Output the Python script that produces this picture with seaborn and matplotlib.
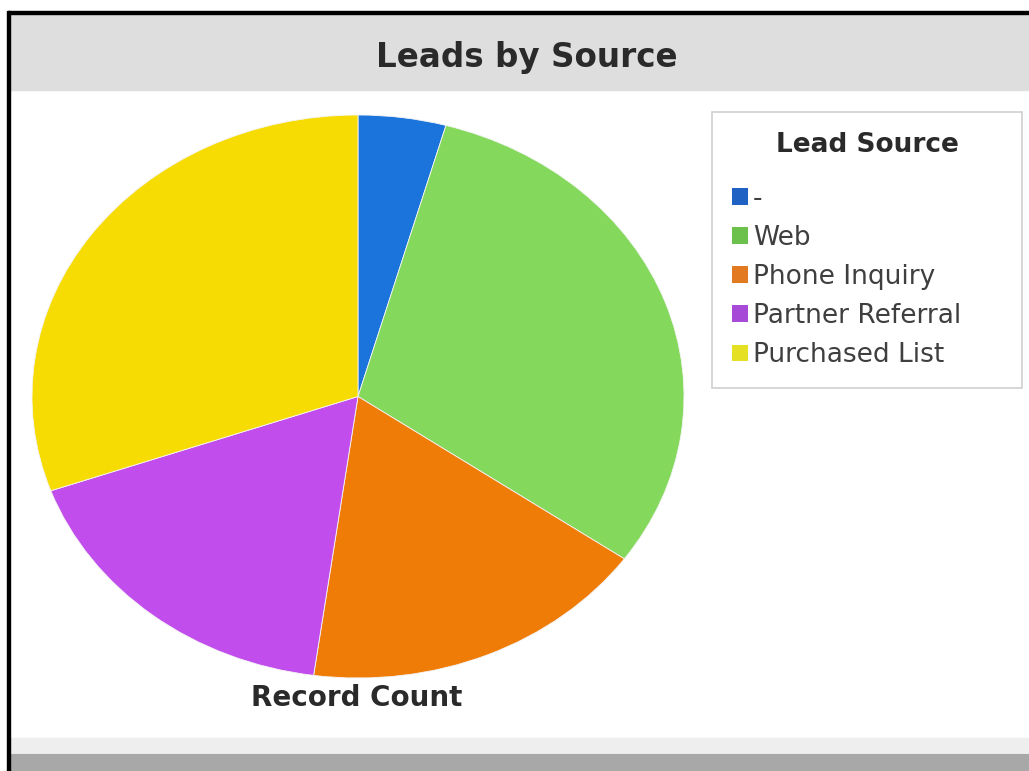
import matplotlib
matplotlib.use('Agg')
import matplotlib.pyplot as plt
from matplotlib.patches import Rectangle, Patch
import seaborn as sns

sources = ['-', 'Web', 'Phone Inquiry', 'Partner Referral', 'Purchased List']
record_count = [1, 7, 4, 4, 7]
slice_colors = ['#1a74dc', '#84d85c', '#f07c08', '#c14ded', '#f6dc02']
legend_colors = ['#1f62c4', '#6cc04c', '#e27a22', '#a84ad8', '#e6e024']

sns.set_theme(style='white')
plt.rcParams['font.family'] = ['DejaVu Sans']

W, H = 1029, 771
fig = plt.figure(figsize=(W / 100, H / 100), dpi=100)
fig.patch.set_facecolor('white')


def fx(px):
    return px / W


def fy(py):
    return 1 - py / H


# frame bits: top black rule, left black rule, header band, footer band
fig.patches.append(Rectangle((fx(8), fy(90)), 1, fy(14) - fy(90), transform=fig.transFigure,
                             color='#dedede', zorder=0))
fig.patches.append(Rectangle((fx(8), fy(14)), 1, fy(11) - fy(14), transform=fig.transFigure,
                             color='black', zorder=1))
fig.patches.append(Rectangle((fx(7), fy(771)), fx(3), fy(11) - fy(771), transform=fig.transFigure,
                             color='black', zorder=1))
fig.patches.append(Rectangle((fx(10), fy(752)), 1, fy(738) - fy(752), transform=fig.transFigure,
                             color='#eeeeee', zorder=0))
fig.patches.append(Rectangle((fx(10), fy(771)), 1, fy(754) - fy(771), transform=fig.transFigure,
                             color='#a8a8a8', zorder=0))

fig.text(fx(527), fy(57), 'Leads by Source', ha='center', va='center',
         fontsize=23.5, fontweight='bold', color='#2a2a2a')

ax = fig.add_axes([fx(32), fy(678), fx(684) - fx(32), fy(115) - fy(678)])
wedges, _ = ax.pie(record_count, colors=slice_colors, startangle=90, counterclock=False,
                   radius=1, wedgeprops=dict(edgecolor='#f4f4f4', linewidth=0.6))
ax.set_aspect('auto')
ax.set_xlim(-1, 1)
ax.set_ylim(-1, 1)
ax.axis('off')

fig.text(fx(357), fy(698), 'Record Count', ha='center', va='center',
         fontsize=20, fontweight='bold', color='#2a2a2a')

handles = [Patch(facecolor=c, edgecolor='none') for c in legend_colors]
leg = fig.legend(handles, sources, title='Lead Source', loc='upper left',
                 bbox_to_anchor=(fx(712), fy(392), fx(1022) - fx(712), fy(112) - fy(392)),
                 bbox_transform=fig.transFigure, mode='expand', fontsize=19,
                 title_fontproperties={'weight': 'bold', 'size': 19},
                 frameon=True, fancybox=False, edgecolor='#d0d0d0', framealpha=1,
                 handlelength=0.6, handleheight=0.6, handletextpad=0.2,
                 labelspacing=0.5, borderpad=0.75, borderaxespad=0)
leg._legend_box.sep = 20
leg.get_frame().set_linewidth(1.2)
for t in leg.get_texts():
    t.set_color('#3f3f3f')
leg.get_title().set_color('#2a2a2a')

fig.savefig('out.png', dpi=100)
